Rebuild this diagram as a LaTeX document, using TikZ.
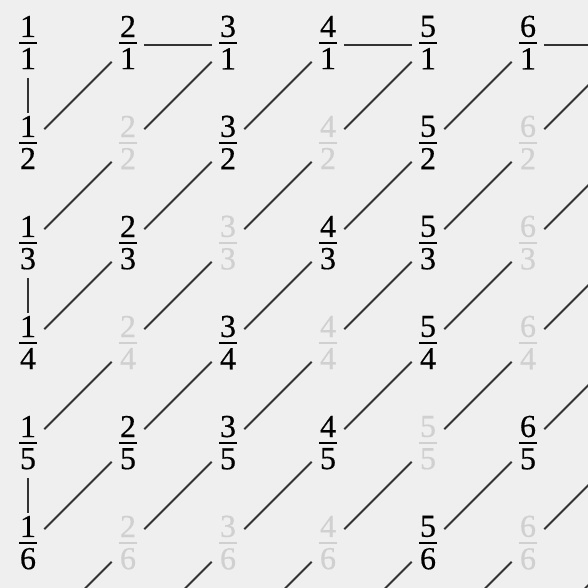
\documentclass[tikz,border=0pt]{standalone}
\usepackage{fontspec}
\setmainfont{Liberation Serif}
\newfontfamily\fracfont[FakeBold=0.5]{Liberation Serif}
\usepackage{tikz}

\definecolor{bgcol}{HTML}{EFEFEF}
\definecolor{linecol}{HTML}{333333}
\definecolor{dimcol}{HTML}{D0D0D0}

\newcommand\frc[2]{\vbox{\hbox to 18pt{\hss#1\hss}\kern5pt\hrule height2pt\kern4pt\hbox to 18pt{\hss#2\vrule width0pt depth6pt\hss}}}

\tikzset{
    frac/.style={inner sep=0pt, font=\fracfont\fontsize{32}{32}\selectfont},
    link/.style={draw=linecol, line width=2pt},
    vlink/.style={link, shorten <=32.5pt, shorten >=32.5pt},
    hlink/.style={link, shorten <=16pt, shorten >=16pt},
    dlink/.style={link, shorten <=23pt, shorten >=23pt}
}

\begin{document}
\begin{tikzpicture}[x=1pt, y=-1pt]
    \fill[bgcol] (0,0) rectangle (588,588);
    \useasboundingbox (0,0) rectangle (588,588);
    \clip (0,0) rectangle (588,588);

    \foreach \p in {1,...,6}
        \foreach \q in {1,...,6} {
            \pgfmathtruncatemacro\g{gcd(\p,\q)}
            \ifnum\g=1 \def\tc{black}\else\def\tc{dimcol}\fi
            \node[frac, text=\tc] (f-\p-\q) at ({28+100*(\p-1)},{45.5+100*(\q-1)}) {\frc{\p}{\q}};
        }

    \foreach \i in {1,...,7} {
        \coordinate (f-7-\i) at (628,{45.5+100*(\i-1)});
        \coordinate (f-\i-7) at ({28+100*(\i-1)},645.5);
    }

    \draw[vlink] (f-1-1.center) -- (f-1-2.center);
    \draw[vlink] (f-1-3.center) -- (f-1-4.center);
    \draw[vlink] (f-1-5.center) -- (f-1-6.center);

    \draw[hlink] (f-2-1.center) -- (f-3-1.center);
    \draw[hlink] (f-4-1.center) -- (f-5-1.center);
    \draw[hlink] (f-6-1.center) -- (f-7-1.center);

    \foreach \p/\pp in {1/2,2/3,3/4,4/5,5/6,6/7}
        \foreach \q/\qq in {1/2,2/3,3/4,4/5,5/6,6/7}
            \draw[dlink] (f-\p-\qq.center) -- (f-\pp-\q.center);
\end{tikzpicture}
\end{document}
